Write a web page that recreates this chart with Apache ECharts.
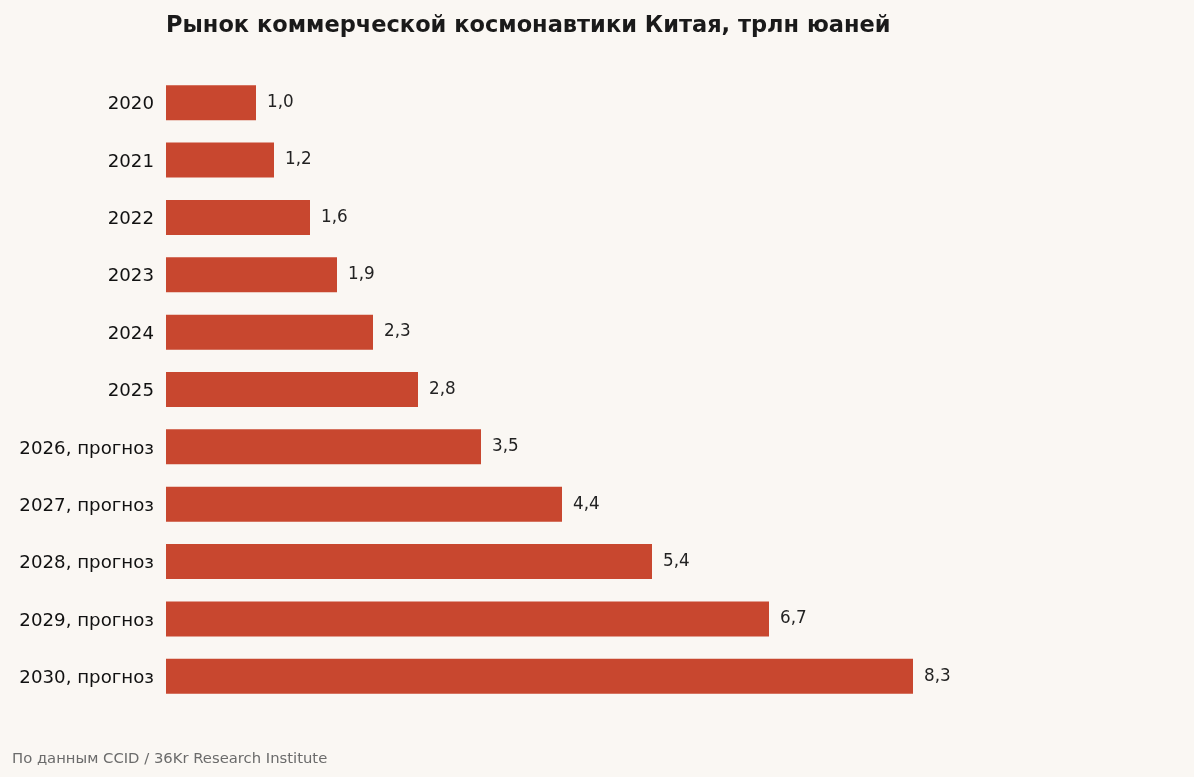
<!DOCTYPE html>
<html><head><meta charset="utf-8">
<script src="https://cdn.jsdelivr.net/npm/echarts@6/dist/echarts.min.js"></script>
<style>html,body{margin:0;padding:0;background:#faf7f3;}#c{width:1194px;height:777px;}</style>
</head><body><div id="c"></div>
<script>
const categories = ["2020","2021","2022","2023","2024","2025","2026, прогноз","2027, прогноз","2028, прогноз","2029, прогноз","2030, прогноз"];
const values = [1.0,1.2,1.6,1.9,2.3,2.8,3.5,4.4,5.4,6.7,8.3];
const chart = echarts.init(document.getElementById('c'));
const F = 'DejaVu Sans';
chart.setOption({
  backgroundColor: '#faf7f3',
  animation: false,
  title: [{
    text: 'Рынок коммерческой космонавтики Китая, трлн юаней',
    left: 161, top: 10,
    textStyle: {fontFamily: F, fontSize: 22.5, fontWeight: 'bold', color: '#1a1a1a'}
  },{
    text: 'По данным CCID / 36Kr Research Institute',
    left: 7, top: 747,
    textStyle: {fontFamily: F, fontSize: 14.8, fontWeight: 'normal', color: '#6b6b6b'}
  }],
  grid: {left: 166, top: 74, width: 900, height: 631},
  xAxis: {type: 'value', min: 0, max: 10, show: false},
  yAxis: {
    type: 'category', data: categories, inverse: true,
    axisLine: {show: false}, axisTick: {show: false},
    axisLabel: {margin: 12, formatter: v => '{a|' + v + '}',
      rich: {a: {fontFamily: F, fontSize: 18.2, color: '#111', padding: [4, 0, 0, 0]}}}
  },
  series: [{
    type: 'bar', data: values, barWidth: 35,
    itemStyle: {color: '#c8472f'},
    label: {show: true, position: 'right', distance: 11,
      fontFamily: F, fontSize: 16.8, color: '#222',
      formatter: p => p.value.toFixed(1).replace('.', ',')}
  }]
});
</script></body></html>
